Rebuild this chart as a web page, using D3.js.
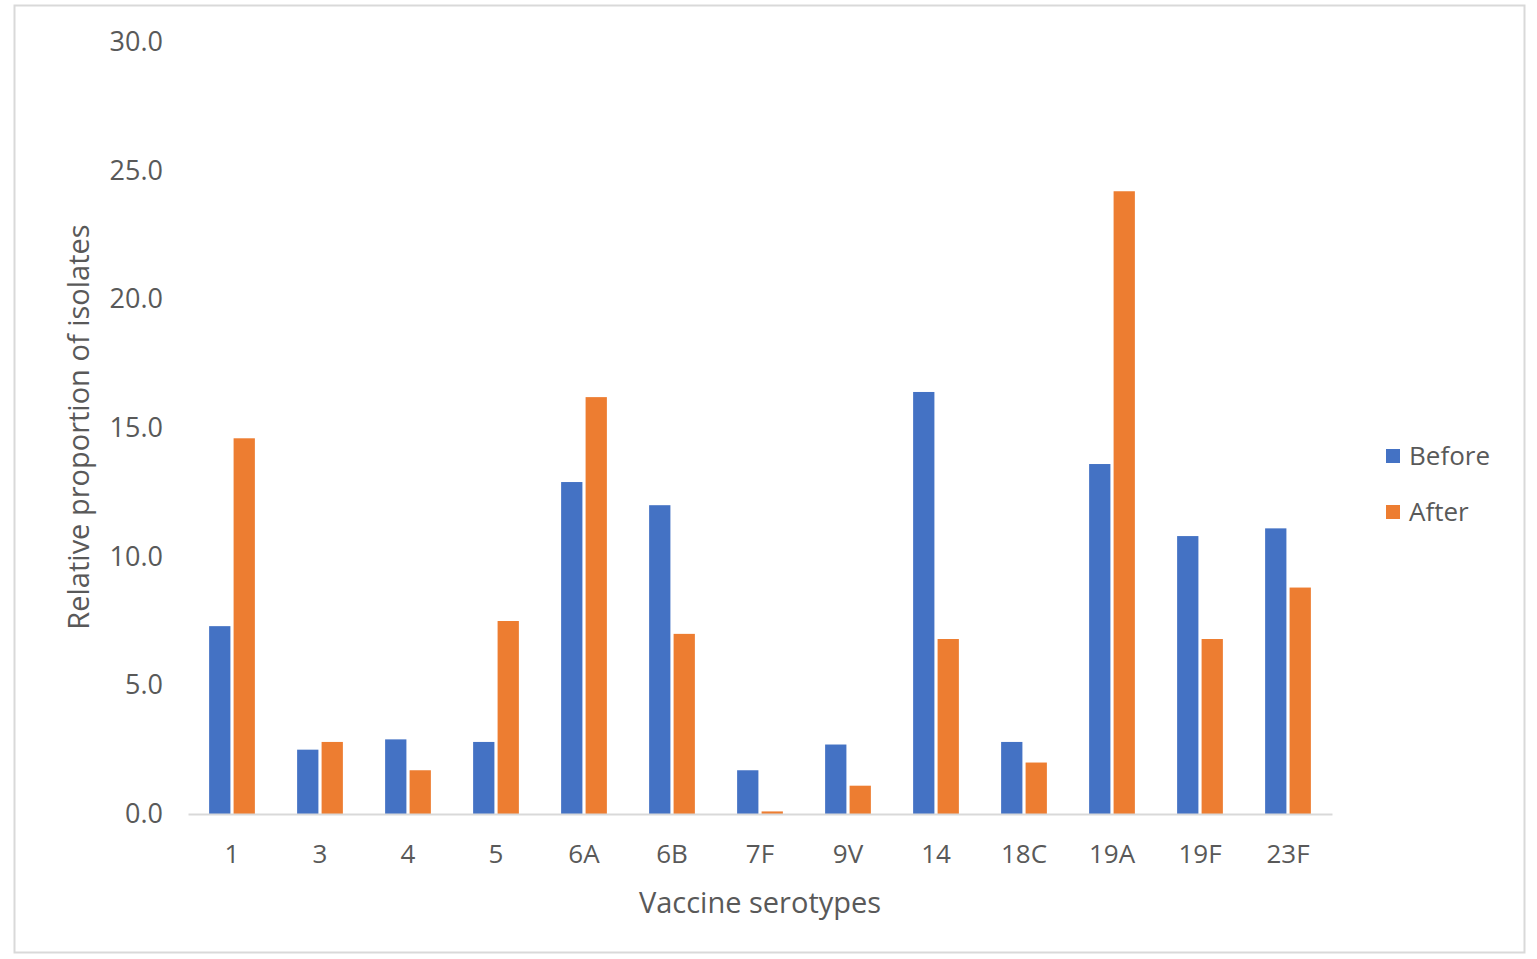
<!DOCTYPE html>
<html>
<head>
<meta charset="utf-8">
<script src="https://cdn.jsdelivr.net/npm/d3@7"></script>
<style>
  html, body { margin: 0; padding: 0; background: #fff; }
  svg { display: block; }
  text { font-family: "Open Sans", "Liberation Sans", sans-serif; fill: #595959; }
</style>
</head>
<body>
<svg id="chart" width="1537" height="959"></svg>
<script>
const categories = ["1", "3", "4", "5", "6A", "6B", "7F", "9V", "14", "18C", "19A", "19F", "23F"];
const seriesNames = ["Before", "After"];
const beforeValues = [7.3, 2.5, 2.9, 2.8, 12.9, 12.0, 1.7, 2.7, 16.4, 2.8, 13.6, 10.8, 11.1];
const afterValues  = [14.6, 2.8, 1.7, 7.5, 16.2, 7.0, 0.1, 1.1, 6.8, 2.0, 24.2, 6.8, 8.8];
const yTicks = [0, 5, 10, 15, 20, 25, 30];
const colors = ["#4472C4", "#ED7D31"];

const svg = d3.select("#chart");

// outer frame
svg.append("rect")
  .attr("x", 14.5).attr("y", 5.5).attr("width", 1510).attr("height", 947)
  .attr("fill", "none").attr("stroke", "#d9d9d9").attr("stroke-width", 2);

const x0 = d3.scaleBand().domain(categories).range([188, 1332]).paddingInner(0.48).paddingOuter(0.24);
const x1 = d3.scaleBand().domain(seriesNames).range([0, x0.bandwidth()]).paddingInner(0.13);
const y = d3.scaleLinear().domain([0, 30]).range([814, 42]);

const rows = categories.map((c, i) => ({ cat: c, vals: [beforeValues[i], afterValues[i]] }));

// bars
const g = svg.append("g");
rows.forEach(r => {
  r.vals.forEach((v, j) => {
    g.append("rect")
      .attr("x", x0(r.cat) + x1(seriesNames[j]))
      .attr("y", y(v))
      .attr("width", x1.bandwidth())
      .attr("height", y(0) - y(v))
      .attr("fill", colors[j]);
  });
});

// x axis
const xAxis = svg.append("g").attr("transform", `translate(0,${y(0)})`)
  .call(d3.axisBottom(x0).tickSize(0).tickPadding(31));
xAxis.select(".domain").attr("stroke", "#d9d9d9").attr("stroke-width", 2);
xAxis.selectAll("text").style("font-size", "26px").attr("fill", "#595959")
  .style("font-family", '"Open Sans", "Liberation Sans", sans-serif');

// y axis
const yAxis = svg.append("g").attr("transform", "translate(188,0)")
  .call(d3.axisLeft(y).tickValues(yTicks).tickFormat(d3.format(".1f")).tickSize(0).tickPadding(25));
yAxis.select(".domain").remove();
yAxis.selectAll("text").style("font-size", "27px").attr("fill", "#595959")
  .style("font-family", '"Open Sans", "Liberation Sans", sans-serif');

// axis titles
svg.append("text")
  .attr("x", 760).attr("y", 903).attr("text-anchor", "middle").attr("dy", "0.35em")
  .style("font-size", "29px").text("Vaccine serotypes");
svg.append("text")
  .attr("transform", "translate(79,427) rotate(-90)")
  .attr("text-anchor", "middle").attr("dy", "0.35em")
  .style("font-size", "29px").text("Relative proportion of isolates");

// legend
const legend = svg.append("g");
seriesNames.forEach((s, i) => {
  const ly = 456 + i * 56;
  legend.append("rect").attr("x", 1386).attr("y", ly - 7).attr("width", 14).attr("height", 14).attr("fill", colors[i]);
  legend.append("text").attr("x", 1409).attr("y", ly).attr("dy", "0.35em")
    .style("font-size", "26px").text(s);
});
</script>
</body>
</html>
